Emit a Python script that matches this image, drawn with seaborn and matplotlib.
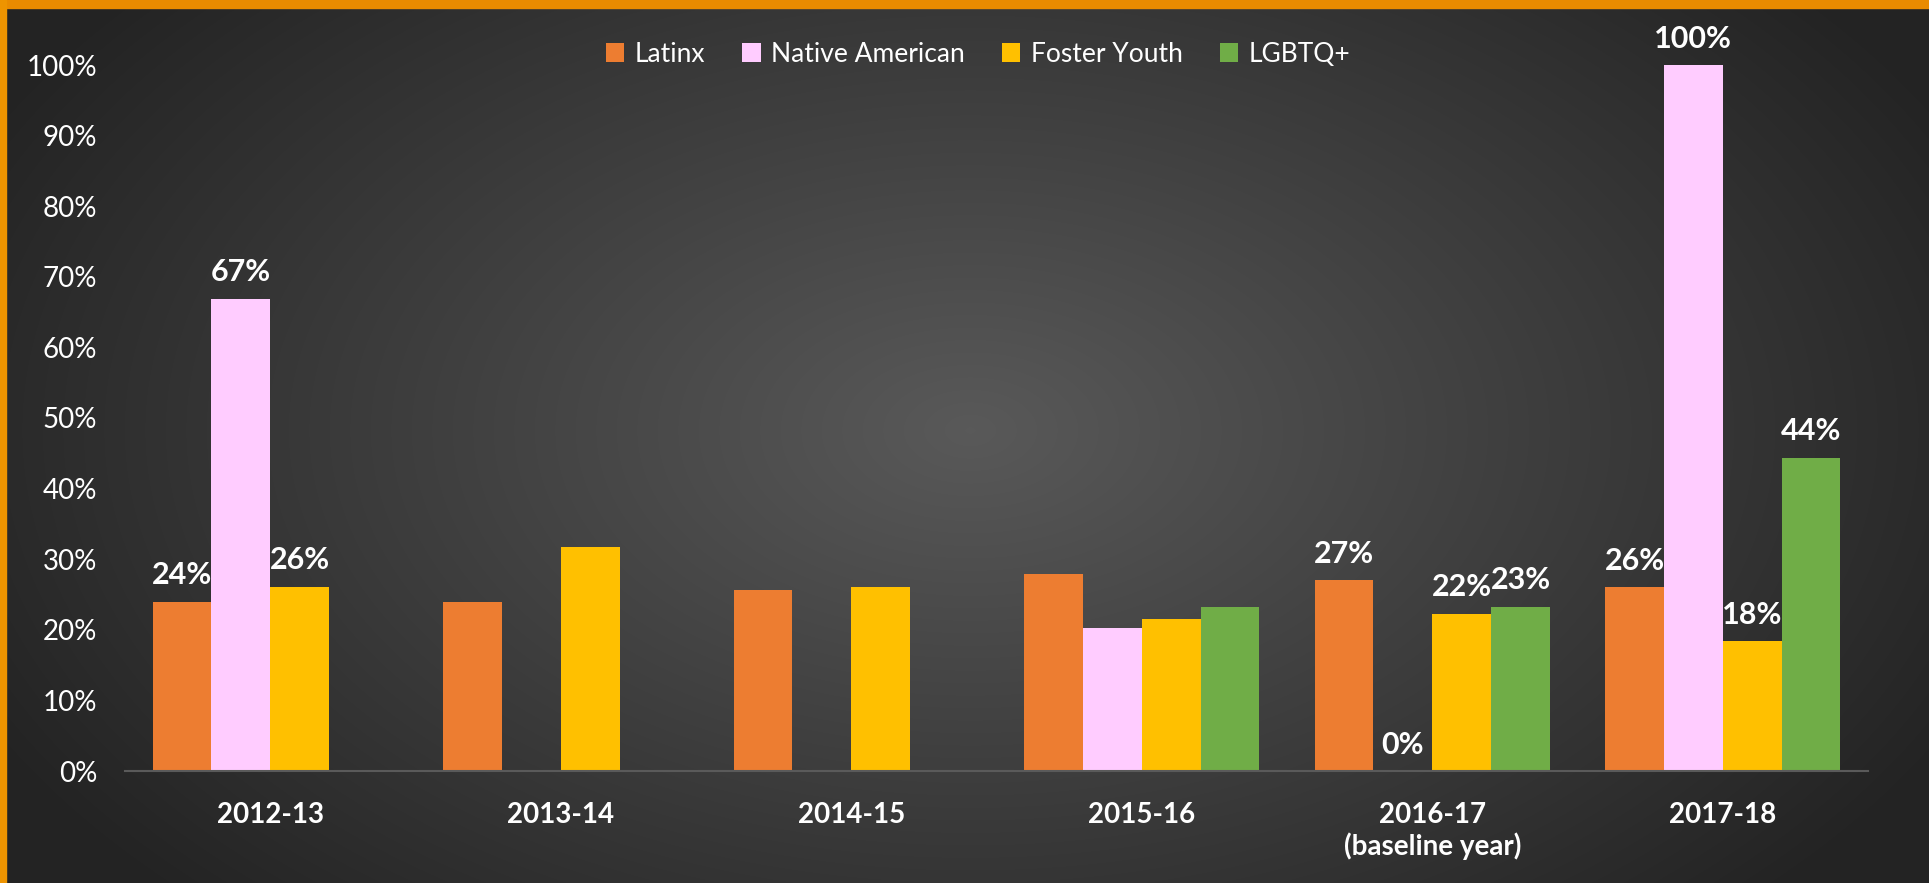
import numpy as np
import pandas as pd
import matplotlib
matplotlib.use('Agg')
import matplotlib.pyplot as plt
from matplotlib.patches import Rectangle
from matplotlib.ticker import FuncFormatter
import seaborn as sns

# data (percent)
years = ['2012-13', '2013-14', '2014-15', '2015-16', '2016-17\n(baseline year)', '2017-18']
groups = ['Latinx', 'Native American', 'Foster Youth', 'LGBTQ+']
latinx = [24.0, 24.0, 25.6, 27.9, 27.0, 26.0]
native = [66.9, np.nan, np.nan, 20.2, 0.0, 100.0]
foster = [26.1, 31.7, 26.1, 21.6, 22.3, 18.4]
lgbtq = [np.nan, np.nan, np.nan, 23.3, 23.3, 44.4]
labeled_years = ['2012-13', '2016-17\n(baseline year)', '2017-18']

colors = ['#ED7D31', '#FFCCFF', '#FFC000', '#70AD47']

sns.set_theme(style='white')
plt.rcParams['font.family'] = ['Lato', 'DejaVu Sans']

df = pd.DataFrame({'year': years, 'Latinx': latinx, 'Native American': native,
                   'Foster Youth': foster, 'LGBTQ+': lgbtq})
long_df = df.melt(id_vars='year', var_name='group', value_name='pct')

fig = plt.figure(figsize=(19.29, 8.83), dpi=100)

# radial gradient background
bg = fig.add_axes([0, 0, 1, 1], zorder=-2)
yy, xx = np.mgrid[0:883, 0:1929]
r = np.sqrt(((xx - 970) / 1150.0) ** 2 + ((yy - 430) / 700.0) ** 2)
shade = np.clip(0.35 - 0.22 * r, 0.14, 0.35)
bg.imshow(np.dstack([shade] * 3), aspect='auto', extent=[0, 1, 0, 1])
bg.set_axis_off()
bg.add_patch(Rectangle((0, 1 - 8 / 883), 1, 8 / 883, color='#E98B00', transform=bg.transAxes))
bg.add_patch(Rectangle((0, 0), 6 / 1929, 1, color='#EE9400', transform=bg.transAxes))

ax = fig.add_axes([125 / 1929, 1 - 771 / 883, (1868 - 125) / 1929, (771 - 65) / 883])
ax.set_facecolor('none')
sns.barplot(data=long_df, x='year', y='pct', hue='group', hue_order=groups,
            order=years, palette=colors, width=0.81, saturation=1, linewidth=0, ax=ax)

ax.set_ylim(0, 100)
ax.set_yticks(np.arange(0, 101, 10))
ax.yaxis.set_major_formatter(FuncFormatter(lambda v, p: f'{v:.0f}%'))
ax.tick_params(axis='y', length=0, pad=20, labelsize=20, labelcolor='white')
ax.tick_params(axis='x', length=0, pad=22, labelsize=20, labelcolor='white')
for lab in ax.get_xticklabels():
    lab.set_fontweight('bold')
ax.set_xlabel('')
ax.set_ylabel('')
for s in ['top', 'right', 'left']:
    ax.spines[s].set_visible(False)
ax.spines['bottom'].set_color('#5a5a5a')
ax.spines['bottom'].set_linewidth(1.5)

# value labels only for selected years
for cont in ax.containers:
    for bar in cont:
        h = bar.get_height()
        if np.isnan(h):
            continue
        xc = bar.get_x() + bar.get_width() / 2
        idx = int(round(xc))
        if years[idx] in labeled_years:
            ax.annotate(f'{h:.0f}%', (xc, h), xytext=(0, 9), textcoords='offset points',
                        ha='center', va='bottom', color='white', fontsize=22,
                        fontweight='bold', annotation_clip=False)

leg = ax.legend(loc='upper center', bbox_to_anchor=(978 / 1929, 1 - 18 / 883),
                bbox_transform=fig.transFigure, ncol=4, frameon=False, fontsize=19,
                handlelength=0.7, handleheight=0.7, handletextpad=0.4, columnspacing=1.4)
for t in leg.get_texts():
    t.set_color('white')

fig.savefig('out.png', dpi=100)
